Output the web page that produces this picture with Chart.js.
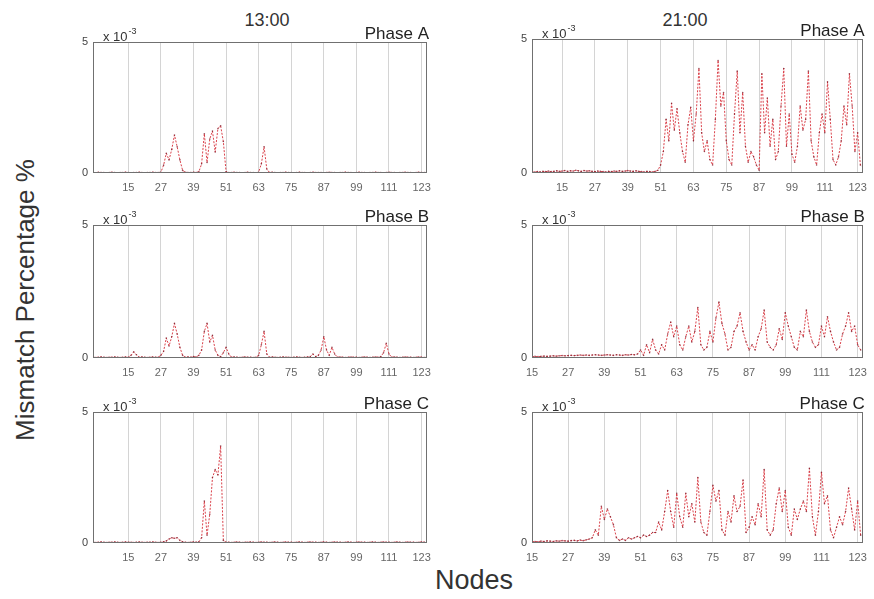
<!DOCTYPE html>
<html>
<head>
<meta charset="utf-8">
<script src="https://cdn.jsdelivr.net/npm/chart.js@4.4.1/dist/chart.umd.min.js"></script>
<style>
  html, body { margin: 0; padding: 0; background: #fff; }
  body { width: 874px; height: 599px; position: relative; overflow: hidden;
         font-family: "Liberation Sans", Arial, sans-serif; }
  .panel { position: absolute; }
  .lbl { position: absolute; color: #333; white-space: nowrap; line-height: 1;
         transform: translate(-50%, -50%); }
  .ylbl { transform: translate(-50%, -50%) rotate(-90deg); }
</style>
</head>
<body>
<div class="lbl" style="left:267px;top:20px;font-size:18px;">13:00</div>
<div class="lbl" style="left:685px;top:20px;font-size:18px;">21:00</div>
<div class="lbl" style="left:474px;top:580px;font-size:27px;">Nodes</div>
<div class="lbl ylbl" style="left:25px;top:300px;font-size:26px;">Mismatch Percentage %</div>

<div class="panel" id="p0"><canvas id="c0"></canvas></div>
<div class="panel" id="p1"><canvas id="c1"></canvas></div>
<div class="panel" id="p2"><canvas id="c2"></canvas></div>
<div class="panel" id="p3"><canvas id="c3"></canvas></div>
<div class="panel" id="p4"><canvas id="c4"></canvas></div>
<div class="panel" id="p5"><canvas id="c5"></canvas></div>

<script>
// ---- data (mismatch, in units of 10^-3 %) ----
const xTickValues = [15, 27, 39, 51, 63, 75, 87, 99, 111, 123];
const yTickValues = [0, 5];
const hourTitles = ['13:00', '21:00'];
const phaseNames = ['Phase A', 'Phase B', 'Phase C'];

// 13:00, nodes 2..125
const firstNode1300 = 2;
const mismatch1300A = [
  0.02,0.01,0.03,0.02,0.02,0.01,0.02,0.03,0.02,0.01,0.02,0.02,0.03,0.02,0.01,0.02,0.02,0.03,0.02,0.01,0.02,0.02,0.03,0.02,0.02,0.03,
  0.3,0.75,0.5,0.9,1.45,1.0,0.5,0.1,
  0.03,0.02,0.02,0.03,0.02,0.05,
  0.35,1.5,0.4,1.3,1.6,0.8,1.7,1.8,1.2,0.05,
  0.02,0.02,0.03,0.02,0.02,0.01,0.02,0.03,0.02,0.02,0.01,0.03,
  0.35,1.0,0.15,
  0.02,0.03,0.02,0.01,0.02,0.02,0.03,0.02,0.02,0.01,
  0.02,0.03,0.02,0.02,0.01,0.02,0.03,0.02,0.02,0.02,
  0.01,0.02,0.03,0.02,0.02,0.01,0.02,0.02,0.03,0.02,
  0.02,0.01,0.02,0.03,0.02,0.02,0.01,0.02,0.02,0.03,
  0.02,0.02,0.01,0.02,0.03,0.02,0.02,0.01,0.02,0.02,
  0.03,0.02,0.02,0.01,0.02,0.03,0.02,0.02,0.02
];
const mismatch1300B = [
  0.03,0.02,0.03,0.04,0.03,0.02,0.03,0.03,0.04,0.03,0.02,0.03,0.04,0.03,
  0.1,0.23,0.12,
  0.03,0.04,0.03,0.02,0.03,0.04,0.03,0.03,
  0.1,0.25,0.75,0.45,0.8,1.3,0.9,0.4,0.1,
  0.03,0.04,0.03,0.05,0.04,0.1,
  0.3,1.0,1.3,0.6,0.85,0.3,0.1,
  0.05,0.2,0.4,0.15,
  0.03,0.04,0.03,0.02,0.03,0.04,0.03,0.03,0.02,0.03,
  0.1,0.5,1.0,0.15,
  0.03,0.04,0.03,0.02,0.03,0.04,0.03,0.03,0.02,0.03,0.04,0.03,0.02,0.03,0.04,0.05,
  0.15,0.05,0.1,0.3,0.8,0.3,0.1,0.4,0.15,
  0.03,0.04,0.03,0.02,0.03,0.04,0.03,0.03,0.02,0.03,0.04,0.03,0.02,0.03,0.04,0.03,0.05,
  0.2,0.55,0.15,
  0.03,0.04,0.03,0.02,0.03,0.04,0.03,0.03,0.02,0.03,0.04,0.03,0.02,0.03
];
const mismatch1300C = [
  0.03,0.02,0.03,0.04,0.03,0.02,0.03,0.03,0.04,0.03,0.02,0.03,0.04,0.03,
  0.03,0.02,0.03,0.04,0.03,0.02,0.03,0.03,0.04,0.03,0.02,0.03,0.05,
  0.08,0.15,0.2,0.18,0.2,0.1,0.05,
  0.03,0.02,0.03,0.04,0.03,0.05,
  0.2,1.6,0.3,1.1,2.5,2.8,2.6,3.7,0.1,0.03,
  0.03,0.02,0.03,0.04,0.03,0.02,0.03,0.03,0.04,0.03,
  0.02,0.03,0.04,0.03,0.03,0.02,0.03,0.04,0.03,0.02,
  0.03,0.04,0.03,0.03,0.02,0.03,0.04,0.03,0.02,0.03,
  0.04,0.03,0.03,0.02,0.03,0.04,0.03,0.02,0.03,0.04,
  0.03,0.03,0.02,0.03,0.04,0.03,0.02,0.03,0.04,0.03,
  0.03,0.02,0.03,0.04,0.03,0.02,0.03,0.04,0.03,0.03,
  0.02,0.03,0.04,0.03,0.02,0.03,0.04,0.03,0.03,0.02,
  0.03,0.04,0.03,0.02
];

// 21:00, phase A from node 4, phases B and C from node 15
const firstNode2100A = 4;
const firstNode2100BC = 15;
const mismatch2100A = [
  0.03,0.04,0.05,0.04,0.06,0.05,0.07,0.05,0.06,0.08,
  0.06,0.07,0.09,0.06,0.08,0.07,0.10,0.08,0.06,0.09,
  0.07,0.08,0.06,0.05,0.07,0.06,0.05,0.04,0.06,0.05,
  0.07,0.06,0.08,0.06,0.07,0.09,0.07,0.06,0.08,0.06,
  0.05,0.04,0.06,0.05,0.04,0.06,0.1,
  0.3,0.8,2.0,1.2,2.6,1.6,2.4,1.5,0.8,0.4,
  1.8,2.45,1.2,2.2,3.9,1.5,0.8,1.2,0.5,0.3,
  2.0,4.2,2.5,3.0,1.2,0.5,0.3,
  2.2,3.8,1.5,3.0,1.0,0.4,
  0.8,0.6,0.3,0.1,
  3.7,1.5,2.8,1.0,2.0,0.5,0.8,
  2.5,3.9,1.0,2.2,0.7,0.4,
  1.0,2.5,1.6,2.0,3.8,1.2,0.6,0.3,
  1.5,2.2,1.5,3.4,2.0,0.5,0.3,
  0.6,1.2,2.5,1.8,3.7,2.5,0.8,1.5,0.3,0.2
];
const mismatch2100B = [
  0.05,0.06,0.05,0.06,0.07,0.06,0.07,0.08,0.07,0.08,
  0.09,0.08,0.09,0.10,0.09,0.10,0.11,0.10,0.11,0.10,
  0.11,0.12,0.11,0.10,0.11,0.12,0.11,0.10,0.12,0.11,
  0.10,0.12,0.11,0.13,0.12,
  0.15,0.3,0.1,0.5,0.2,0.7,0.3,0.15,
  0.5,0.3,0.9,1.35,0.8,1.2,0.5,0.3,
  0.8,1.2,0.6,1.0,1.9,0.5,0.3,
  0.4,1.0,0.6,1.5,2.1,1.3,0.9,0.3,
  0.4,1.0,1.2,1.7,1.0,0.6,0.3,0.5,0.3,
  0.8,1.1,1.8,0.6,0.4,0.3,
  0.5,1.1,0.7,1.7,1.2,0.8,0.4,0.3,
  1.0,0.8,1.8,1.0,0.6,0.4,
  0.5,1.2,0.8,1.55,1.0,0.6,0.3,
  0.4,0.9,1.2,1.7,1.0,1.2,0.5,0.3
];
const mismatch2100C = [
  0.05,0.06,0.05,0.07,0.06,0.08,0.07,0.06,0.08,0.07,
  0.09,0.08,0.07,0.09,0.10,0.08,0.11,0.09,0.12,0.15,
  0.2,0.5,0.3,1.4,0.9,1.3,1.0,0.7,0.2,
  0.1,0.15,0.1,0.2,0.15,0.2,0.25,0.2,0.3,0.25,0.3,0.4,
  0.4,0.8,0.5,1.2,2.0,1.2,0.6,1.9,1.0,0.6,
  1.9,1.0,1.5,0.8,2.5,0.8,0.4,0.3,
  1.2,2.2,1.6,2.0,0.5,0.3,
  1.2,0.8,1.8,1.2,1.4,2.4,0.4,
  0.6,1.0,0.7,1.5,1.0,2.8,0.5,0.3,
  0.5,1.5,2.1,1.2,2.0,0.6,0.3,
  1.3,0.9,1.3,1.6,1.2,2.85,1.0,0.3,
  1.2,2.7,1.5,1.8,0.5,0.2,
  0.6,1.0,0.7,1.2,2.1,1.3,0.5,1.6,0.3
];

// ---- layout of the six axes boxes (left, top, width, height in px) ----
const LEFT = 45, TOP = 26, RIGHT = 12, BOTTOM = 26;
const FONT = '"Liberation Sans", Arial, sans-serif';

const panels = [
  { values: mismatch1300A, first: firstNode1300,   xMin: 2,  xMax: 125,   phase: phaseNames[0], box: [93, 42, 334, 131] },
  { values: mismatch2100A, first: firstNode2100A,  xMin: 4,  xMax: 124.8, phase: phaseNames[0], box: [532, 39, 331, 134] },
  { values: mismatch1300B, first: firstNode1300,   xMin: 2,  xMax: 125,   phase: phaseNames[1], box: [93, 225, 334, 133] },
  { values: mismatch2100B, first: firstNode2100BC, xMin: 15, xMax: 124.7, phase: phaseNames[1], box: [532, 225, 331, 133] },
  { values: mismatch1300C, first: firstNode1300,   xMin: 2,  xMax: 125,   phase: phaseNames[2], box: [93, 412, 334, 131] },
  { values: mismatch2100C, first: firstNode2100BC, xMin: 15, xMax: 124.7, phase: phaseNames[2], box: [532, 412, 331, 131] }
];

// frame around the plot area, phase name and the 10^-3 multiplier
const frameAndLabels = {
  id: 'frameAndLabels',
  afterDraw(chart, args, opts) {
    const { ctx, chartArea: a } = chart;
    ctx.save();
    ctx.strokeStyle = '#707070';
    ctx.lineWidth = 1;
    ctx.strokeRect(Math.round(a.left) + 0.5, Math.round(a.top) + 0.5,
                   Math.round(a.right - a.left) - 1, Math.round(a.bottom - a.top) - 1);
    ctx.fillStyle = '#222';
    ctx.textBaseline = 'alphabetic';
    ctx.textAlign = 'right';
    ctx.font = '17px ' + FONT;
    ctx.fillText(opts.phase, a.right + 2, a.top - 3);
    ctx.textAlign = 'left';
    ctx.font = '13px ' + FONT;
    ctx.fillStyle = '#333';
    ctx.fillText('x 10', a.left + 10, a.top - 1);
    const w = ctx.measureText('x 10').width;
    ctx.font = '9px ' + FONT;
    ctx.fillText('-3', a.left + 10 + w + 1, a.top - 8);
    ctx.restore();
  }
};

panels.forEach((p, i) => {
  const [bl, bt, bw, bh] = p.box;
  const div = document.getElementById('p' + i);
  const cv = document.getElementById('c' + i);
  const W = bw + LEFT + RIGHT, H = bh + TOP + BOTTOM;
  div.style.left = (bl - LEFT) + 'px';
  div.style.top = (bt - TOP) + 'px';
  cv.width = W; cv.height = H;
  cv.style.width = W + 'px'; cv.style.height = H + 'px';

  const points = p.values.map((v, k) => ({ x: p.first + k, y: v }));

  new Chart(cv, {
    type: 'line',
    data: {
      datasets: [{
        data: points,
        borderColor: 'rgba(214,45,55,0.9)',
        borderWidth: 1,
        borderDash: [2, 1.5],
        pointRadius: 0.8,
        pointBorderWidth: 0,
        pointBackgroundColor: 'rgba(120,20,35,0.75)',
        tension: 0,
        fill: false
      }]
    },
    options: {
      responsive: false,
      animation: false,
      events: [],
      layout: { padding: { top: TOP, right: RIGHT, left: 0, bottom: 0 } },
      plugins: {
        legend: { display: false },
        tooltip: { enabled: false },
        frameAndLabels: { phase: p.phase }
      },
      scales: {
        x: {
          type: 'linear',
          min: p.xMin, max: p.xMax,
          afterBuildTicks: s => { s.ticks = xTickValues.filter(v => v >= p.xMin && v <= p.xMax).map(v => ({ value: v })); },
          afterFit: s => { s.height = BOTTOM; },
          grid: { color: '#d4d4d4', lineWidth: 1, drawTicks: false },
          border: { display: false },
          ticks: { font: { size: 11, family: FONT }, color: '#666', padding: 8, maxRotation: 0, autoSkip: false }
        },
        y: {
          min: 0, max: 5,
          afterBuildTicks: s => { s.ticks = yTickValues.map(v => ({ value: v })); },
          afterFit: s => { s.width = LEFT; },
          grid: { display: false, drawTicks: false },
          border: { display: false },
          ticks: { font: { size: 11, family: FONT }, color: '#444', padding: 5, callback: v => String(v) }
        }
      }
    },
    plugins: [frameAndLabels]
  });
});
</script>
</body>
</html>
